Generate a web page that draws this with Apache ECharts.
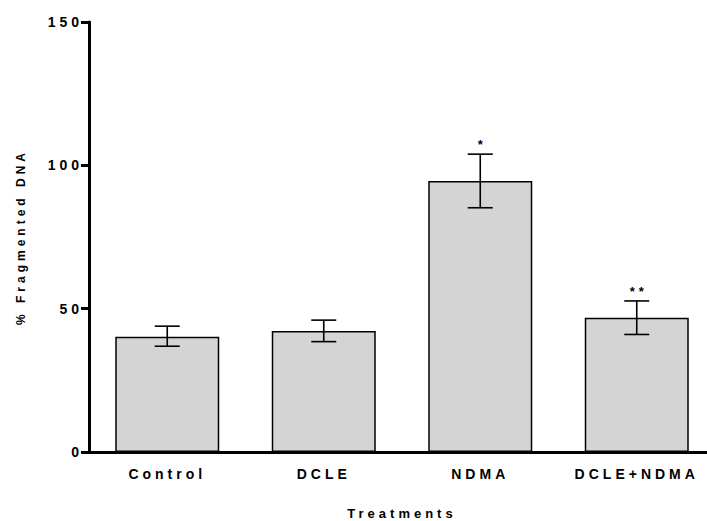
<!DOCTYPE html>
<html>
<head>
<meta charset="utf-8">
<script src="https://cdn.jsdelivr.net/npm/echarts@6/dist/echarts.min.js"></script>
<style>
html,body{margin:0;padding:0;background:#fff;}
#chart{width:707px;height:521px;}
#chart text{letter-spacing:4px;}
</style>
</head>
<body>
<div id="chart"></div>
<script>
const categories = ["Control", "DCLE", "NDMA", "DCLE+NDMA"];
const means = [40.2, 42.2, 94.5, 46.8];
const errLow = [36.9, 38.5, 85.2, 41.0];
const errHigh = [43.9, 46.0, 103.9, 52.7];
const marks = ["", "", "*", "**"];
const yTicks = [0, 50, 100, 150];

const FONT = '"Liberation Sans", Arial, sans-serif';
const chart = echarts.init(document.getElementById('chart'), null, {renderer: 'svg'});
chart.setOption({
  animation: false,
  backgroundColor: '#fff',
  grid: {left: 89, width: 626, top: 22, bottom: 69, containLabel: false, outerBoundsMode: 'none'},
  xAxis: {
    type: 'category',
    data: categories,
    name: 'Treatments',
    nameLocation: 'middle',
    nameGap: 55,
    nameTextStyle: {fontFamily: FONT, fontWeight: 'bold', fontSize: 13, color: '#000'},
    axisLine: {lineStyle: {color: '#000', width: 3}},
    axisTick: {alignWithLabel: true, length: 6, lineStyle: {color: '#000', width: 3}},
    axisLabel: {fontFamily: FONT, fontWeight: 'bold', fontSize: 14, color: '#000', margin: 15}
  },
  yAxis: {
    type: 'value',
    min: yTicks[0],
    max: yTicks[yTicks.length - 1],
    interval: 50,
    name: '% Fragmented DNA',
    nameLocation: 'middle',
    nameGap: 62,
    nameTextStyle: {fontFamily: FONT, fontWeight: 'bold', fontSize: 12, color: '#000'},
    axisLine: {show: true, lineStyle: {color: '#000', width: 3}},
    axisTick: {show: true, length: 8, lineStyle: {color: '#000', width: 3}},
    axisLabel: {fontFamily: FONT, fontWeight: 'bold', fontSize: 14, color: '#000', margin: 6},
    splitLine: {show: false}
  },
  series: [
    {
      type: 'bar',
      data: means,
      barWidth: 104,
      itemStyle: {color: '#d4d4d4', borderColor: '#000', borderWidth: 1.5},
      z: 2
    },
    {
      type: 'custom',
      z: 3,
      data: categories.map((c, i) => [i, errLow[i], errHigh[i]]),
      renderItem: function (params, api) {
        const i = api.value(0);
        const lo = api.coord([i, api.value(1)]);
        const hi = api.coord([i, api.value(2)]);
        const hw = 12.5;
        const st = {stroke: '#000', lineWidth: 1.6};
        const children = [
          {type: 'line', shape: {x1: hi[0], y1: hi[1], x2: lo[0], y2: lo[1]}, style: st},
          {type: 'line', shape: {x1: hi[0] - hw, y1: hi[1], x2: hi[0] + hw, y2: hi[1]}, style: st},
          {type: 'line', shape: {x1: lo[0] - hw, y1: lo[1], x2: lo[0] + hw, y2: lo[1]}, style: st}
        ];
        const m = marks[params.dataIndex];
        if (m) {
          children.push({type: 'text', style: {text: m, x: hi[0] + 2, y: hi[1] - 3, textAlign: 'center', textVerticalAlign: 'bottom', font: 'bold 13px ' + FONT, fill: '#000'}});
        }
        return {type: 'group', children: children};
      }
    }
  ]
});
</script>
</body>
</html>
